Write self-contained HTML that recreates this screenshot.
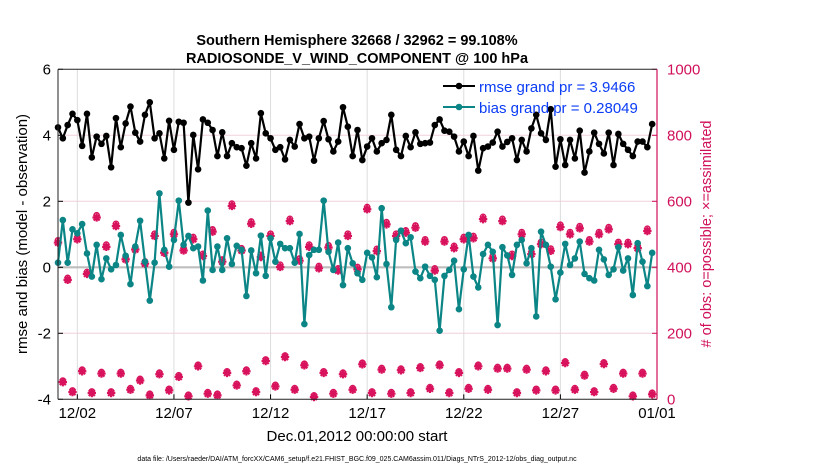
<!DOCTYPE html>
<html><head><meta charset="utf-8">
<style>
body{margin:0;background:#fff;}
svg{display:block;font-family:"Liberation Sans",sans-serif;}
</style></head>
<body>
<svg id="chart" width="830" height="470" viewBox="0 0 830 470" xmlns="http://www.w3.org/2000/svg">
<rect x="0" y="0" width="830" height="470" fill="#fff"/>
<text x="357" y="45" font-size="14.5" font-weight="bold" text-anchor="middle">Southern Hemisphere 32668 / 32962 = 99.108%</text>
<text x="357" y="63" font-size="14.5" font-weight="bold" text-anchor="middle">RADIOSONDE_V_WIND_COMPONENT @ 100 hPa</text>
<g id="grid"></g>
<g id="marks"></g>
<g id="axes"></g>
<text transform="translate(27,234) rotate(-90)" font-size="15" text-anchor="middle">rmse and bias (model - observation)</text>
<text transform="translate(711,234) rotate(-90)" font-size="14.5" text-anchor="middle" fill="#d0105a">#  of obs: o=possible; ×=assimilated</text>
<text x="357" y="441" font-size="15" text-anchor="middle">Dec.01,2012 00:00:00 start</text>
<text x="357" y="461" font-size="7" text-anchor="middle">data file: /Users/raeder/DAI/ATM_forcXX/CAM6_setup/f.e21.FHIST_BGC.f09_025.CAM6assim.011/Diags_NTrS_2012-12/obs_diag_output.nc</text>
<g>
  <line x1="443" y1="86" x2="475" y2="86" stroke="#000" stroke-width="2"/>
  <circle cx="459" cy="86" r="3.3" fill="#000"/>
  <text x="479" y="92" font-size="15" fill="#0a3cf5">rmse grand pr = 3.9466</text>
  <line x1="443" y1="107" x2="475" y2="107" stroke="#0b8585" stroke-width="2"/>
  <circle cx="459" cy="107" r="3.3" fill="#0b8585"/>
  <text x="479" y="113" font-size="15" fill="#0a3cf5">bias grand pr = 0.28049</text>
</g>
</svg>
<script>
const rmse=[4.24,3.91,4.31,4.65,4.46,3.68,4.65,3.33,3.96,3.74,3.98,3.03,4.52,3.64,4.36,4.87,4.08,3.81,4.62,5.0,3.91,4.06,3.30,4.44,3.56,4.41,4.38,1.96,4.01,2.97,4.48,4.38,
4.16,3.37,4.09,3.37,3.76,3.64,3.61,3.08,3.76,3.30,4.67,4.06,3.91,3.56,3.64,3.27,3.86,3.66,4.34,3.91,3.96,3.23,3.91,4.43,3.88,3.51,3.81,4.85,4.26,3.37,4.16,
3.25,3.66,3.91,3.51,3.76,3.86,4.62,3.56,3.37,3.98,3.64,4.09,3.74,3.76,3.78,4.31,4.48,4.14,4.11,3.96,3.51,3.81,3.37,3.98,2.93,3.61,3.66,3.78,4.11,3.66,3.80,
3.91,3.25,3.86,3.51,4.21,4.62,4.06,3.86,4.79,3.05,3.88,3.10,3.86,3.30,4.14,2.87,3.51,4.08,3.74,3.45,4.08,3.10,4.04,3.74,3.56,3.37,3.81,3.81,3.64,4.34];
const bias=[0.14,1.43,0.14,1.15,1.03,1.31,0.42,-0.28,0.68,-0.36,0.27,-0.06,0.07,0.98,0.35,-0.51,0.63,1.41,0.17,-1.01,0.14,2.24,0.53,0.02,0.83,2.02,0.68,0.95,0.58,0.63,-0.40,1.72,
-0.08,0.63,-0.08,0.88,0.10,0.65,0.53,-0.87,0.51,-0.18,0.96,-0.26,0.88,0.17,0.71,0.58,0.58,0.14,1.01,-1.72,0.37,0.53,0.53,2.02,0.47,-0.08,0.75,-0.54,0.58,0.12,-0.18,
-0.38,0.44,0.30,-0.30,1.79,0.10,-1.21,0.83,1.11,0.73,0.91,-0.13,-0.33,0.02,-0.26,-0.38,-1.92,-0.26,-0.08,0.20,-1.27,-0.06,0.98,-0.28,-0.61,0.40,0.68,0.47,-1.75,0.61,0.36,
-0.23,0.68,0.83,0.12,0.58,-1.49,1.08,0.68,0.02,-0.97,-0.16,0.71,0.07,0.27,0.78,-0.20,-0.33,-0.40,0.53,0.24,-0.23,-0.06,0.61,-0.10,0.27,-0.84,0.73,0.17,-0.57,0.44];
const obsPossible=[482,57,368,27,492,90,386,24,558,83,469,24,532,83,431,34,461,62,418,17,502,81,451,32,507,73,458,14,492,105,441,22,
515,17,424,85,593,47,458,90,539,27,438,121,502,44,408,133,547,34,427,108,469,12,404,85,467,22,397,81,502,34,401,111,
583,24,456,95,537,22,502,93,512,24,527,100,485,37,397,108,485,24,465,85,492,37,495,105,553,34,434,98,547,98,
441,24,507,95,447,32,477,90,457,32,529,115,507,34,525,77,485,27,507,112,522,37,477,83,477,14,465,83,517,20];
const obsAssim=[475,52,362,22,485,85,380,19,551,78,462,19,525,78,424,29,454,57,411,12,495,76,444,27,500,68,451,9,485,100,434,17,
508,12,417,80,586,42,451,85,532,22,431,116,495,39,401,128,540,29,420,103,462,7,397,80,460,17,390,76,495,29,394,106,
576,19,449,90,530,17,495,88,505,19,520,95,478,32,390,103,478,19,458,80,485,32,488,100,546,29,427,93,540,93,
434,19,500,90,440,27,470,85,450,27,522,110,500,29,518,72,478,22,500,107,515,32,470,78,470,9,458,78,510,15];
const xTickLabels=["12/02","12/07","12/12","12/17","12/22","12/27","01/01"];
const xTickDays=[1,6,11,16,21,26,31];
const yTickLeft=[6,4,2,0,-2,-4];
const yTickRight=[1000,800,600,400,200,0];

const NS="http://www.w3.org/2000/svg";
const L=58,R=657,T=69.3,B=399.3;
const xScale=d=>L+(d/31)*(R-L);
const yL=v=>B-(v+4)/10*(B-T);
const yR=v=>B-v/1000*(B-T);
const tOf=i=>i*0.25;
function mk(tag,attrs,parent){const e=document.createElementNS(NS,tag);for(const k in attrs)e.setAttribute(k,attrs[k]);parent.appendChild(e);return e;}
const grid=document.getElementById('grid'),marks=document.getElementById('marks'),axes=document.getElementById('axes');

xTickDays.forEach((d,i)=>{
  const g=mk('line',{x1:xScale(d),x2:xScale(d),y1:T,y2:B,stroke:'#dcdcdc','stroke-width':1},grid);
  
  
  const t=mk('text',{x:xScale(d),y:418,'font-size':15,'text-anchor':'middle'},axes);
  t.textContent=xTickLabels[i];
  
  
  mk('line',{x1:xScale(d),x2:xScale(d),y1:B,y2:B-5,stroke:'#000'},axes);
});
yTickLeft.forEach(v=>{
  if(v!==0&&v!==6&&v!==-4){const g=mk('line',{x1:L,x2:R,y1:yL(v),y2:yL(v),stroke:'#f0d0dc','stroke-width':1},grid);
  
  }
  const t=mk('text',{x:51,y:yL(v)+5,'font-size':15,'text-anchor':'end'},axes);
  t.textContent=v;
  
  
  mk('line',{x1:L,x2:L+5,y1:yL(v),y2:yL(v),stroke:'#000'},axes);
});
yTickRight.forEach(v=>{
  const t=mk('text',{x:667,y:yR(v)+5,'font-size':15,fill:'#d0105a'},axes);
  t.textContent=v;
  
  
  mk('line',{x1:R,x2:R-5,y1:yR(v),y2:yR(v),stroke:'#d0105a'},axes);
});
const zl=mk('line',{x1:L,x2:R,y1:yL(0),y2:yL(0),stroke:'#bdbdbd','stroke-width':2.2},grid);



const pink='#d8125c';
obsPossible.forEach((v,i)=>{
  const x=xScale(tOf(i)),y=yR(v);
  const c=mk('circle',{cx:x,cy:y,r:2.6,fill:'none',stroke:pink,'stroke-width':1.4},marks);
  
  
});
obsAssim.forEach((v,i)=>{
  const x=xScale(tOf(i)),y=yR(v);
  const p=mk('path',{d:`M${x-3},${y-3}L${x+3},${y+3}M${x-3},${y+3}L${x+3},${y-3}M${x-4.2},${y}L${x+4.2},${y}M${x},${y-4.2}L${x},${y+4.2}`,stroke:pink,'stroke-width':2.2},marks);
  
  
  const d=mk('circle',{cx:x,cy:y,r:2.6,fill:pink},marks);
  
  
});
function series(arr,color,name){
  const pts=arr.map((v,i)=>xScale(tOf(i)).toFixed(1)+','+yL(v).toFixed(1)).join(' ');
  const pl=mk('polyline',{points:pts,fill:'none',stroke:color,'stroke-width':2.2,'stroke-linejoin':'round'},marks);
  
  
  arr.forEach((v,i)=>{
    const c=mk('circle',{cx:xScale(tOf(i)),cy:yL(v),r:3.3,fill:color},marks);
    
    
  });
}
series(bias,'#0b8585','bias');
series(rmse,'#000','rmse');

mk('line',{x1:L,x2:R,y1:T,y2:T,stroke:'#222','stroke-width':1},axes);
mk('line',{x1:L,x2:R,y1:B,y2:B,stroke:'#222','stroke-width':1},axes);
mk('line',{x1:L,x2:L,y1:T,y2:B,stroke:'#222','stroke-width':1},axes);
mk('line',{x1:R,x2:R,y1:T,y2:B,stroke:'#d0105a','stroke-width':1.2},axes);
</script>
</body></html>
